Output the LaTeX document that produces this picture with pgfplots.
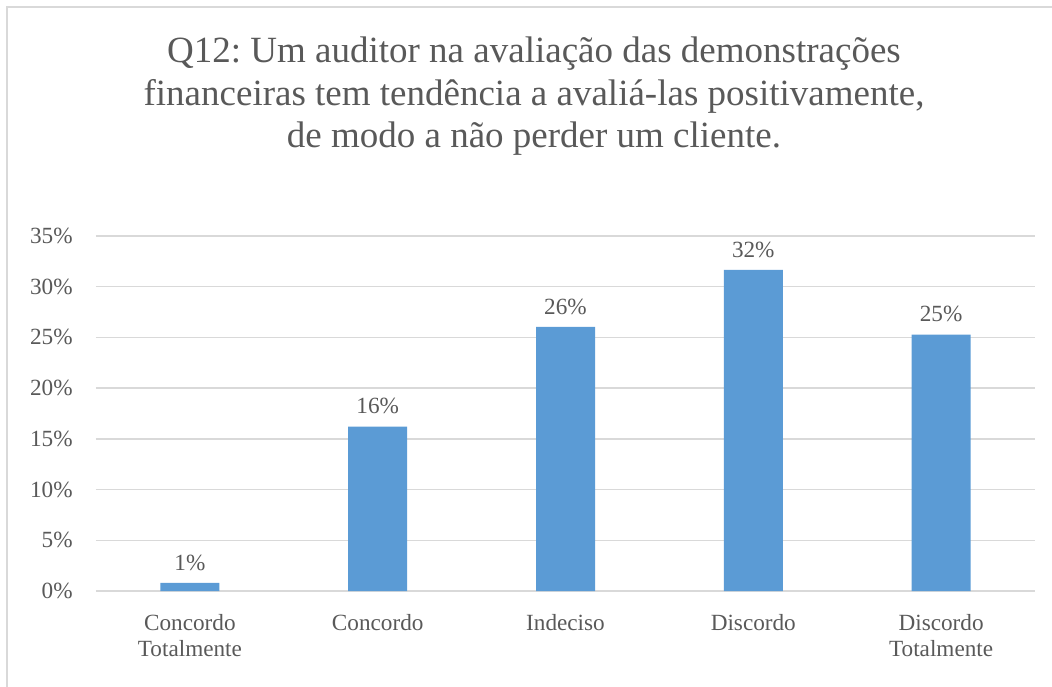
\documentclass[border=0pt]{standalone}
\usepackage{fontspec}
\setmainfont{Liberation Serif}
\usepackage{pgfplots}
\pgfplotsset{compat=1.18}
\definecolor{barblue}{HTML}{5B9BD5}
\definecolor{gridgray}{HTML}{D9D9D9}
\definecolor{textgray}{HTML}{595959}
\frenchspacing

\begin{document}
\begin{tikzpicture}
% page = 1052x686 px at 0.5pt per px, axis box at the origin
\useasboundingbox (-48pt,-47.5pt) rectangle (478pt,295.5pt);
\draw[gridgray, line width=1pt] (-44.25pt,-60pt) -- (-44.25pt,292pt) -- (490pt,292pt);
\begin{axis}[
    at={(0,0)}, anchor=south west,
    scale only axis,
    width=469.5pt, height=177.5pt,
    ybar, bar width=29.5pt,
    xmin=-0.5, xmax=4.5,
    ymin=0, ymax=35, ytick={0,5,...,35},
    xtick=data,
    xticklabels={{Concordo\\Totalmente},Concordo,Indeciso,Discordo,{Discordo\\Totalmente}},
    axis line style={draw=none},
    major tick length=0pt,
    ymajorgrids=true,
    grid style={gridgray, line width=0.75pt},
    /pgf/number format/assume math mode=true,
    tick label style={font=\fontsize{11.6}{13}\selectfont, text=textgray, inner sep=0pt},
    yticklabel={\pgfmathprintnumber{\tick}\%},
    yticklabel style={anchor=east, xshift=-11.5pt},
    xticklabel style={align=center, anchor=north, yshift=-11.4pt},
    nodes near coords={\pgfmathprintnumber[fixed,precision=0]{\pgfplotspointmeta}\%},
    every node near coord/.append style={font=\fontsize{11.6}{13}\selectfont, text=textgray, anchor=south, inner sep=0pt, yshift=6pt},
]
\addplot[fill=barblue, draw=none] coordinates {
    (0,0.79) (1,16.2) (2,26.05) (3,31.66) (4,25.27)
};
\end{axis}
\begin{scope}[every node/.style={font=\fontsize{18.5}{21}\selectfont, text=textgray, anchor=base, inner sep=0pt}]
\node at (219pt,264pt) {Q12: Um auditor na avaliação das demonstrações};
\node at (219pt,242.5pt) {financeiras tem tendência a avaliá-las positivamente,};
\node at (219pt,221.5pt) {de modo a não perder um cliente.};
\end{scope}
\end{tikzpicture}
\end{document}
